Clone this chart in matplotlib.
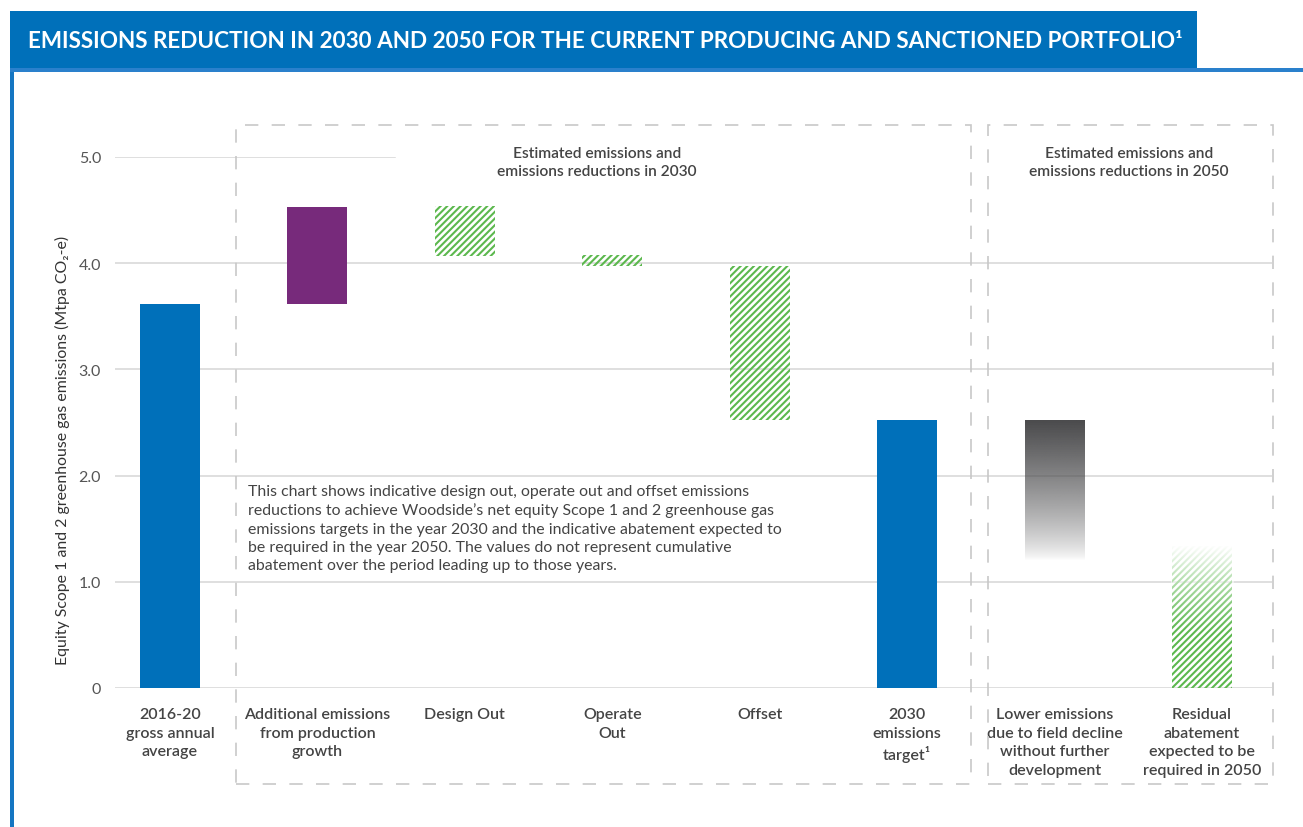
import matplotlib
matplotlib.use("Agg")
import matplotlib.pyplot as plt
from matplotlib.patches import Rectangle
import numpy as np

W, H = 1303, 828

plt.rcParams['font.family'] = ['Lato', 'DejaVu Sans']
plt.rcParams['hatch.linewidth'] = 1.5

# data (Mtpa CO2-e)
categories = ['2016-20\ngross annual\naverage',
              'Additional emissions\nfrom production\ngrowth',
              'Design Out',
              'Operate\nOut',
              'Offset',
              '2030\nemissions\ntarget\u00b9',
              'Lower emissions\ndue to field decline\nwithout further\ndevelopment',
              'Residual\nabatement\nexpected to be\nrequired in 2050']
bar_low = [0, 3.62, 4.07, 3.97, 2.52, 0, 1.10, 0]
bar_high = [3.62, 4.53, 4.54, 4.08, 3.97, 2.52, 2.52, 1.34]
bar_kind = ['solid', 'growth', 'hatch', 'hatch', 'hatch', 'solid', 'fade_grey', 'fade_hatch']
yticks = [0, 1.0, 2.0, 3.0, 4.0, 5.0]
ytick_labels = ['0', '1.0', '2.0', '3.0', '4.0', '5.0']

BLUE = '#0070ba'
PURPLE = '#772a7b'
GREEN = '#5cb84e'
DARK = '#4a4a4c'
TXT = '#444444'
GRID = '#d6d6d6'


def px(x, y):
    return x / W, 1 - y / H


fig = plt.figure(figsize=(W / 100, H / 100), dpi=100)

# banner
fig.add_artist(Rectangle(px(10, 69), 1187 / W, 57 / H, transform=fig.transFigure,
                         color=BLUE, lw=0))
fig.add_artist(Rectangle(px(10, 73), (W - 10) / W, 4 / H, transform=fig.transFigure,
                         color='#2a80cc', lw=0))
fig.add_artist(Rectangle(px(10, H), 4 / W, (H - 73) / H, transform=fig.transFigure,
                         color='#1576c2', lw=0))
fig.text(*px(28, 42), 'EMISSIONS REDUCTION IN 2030 AND 2050 FOR THE CURRENT PRODUCING AND SANCTIONED PORTFOLIO\u00b9',
         color='white', fontsize=16.2, fontweight='bold', va='center', ha='left')

ax0, ax1, ay0, ay1 = 115, 1272, 689, 158
ax = fig.add_axes([ax0 / W, 1 - ay0 / H, (ax1 - ax0) / W, (ay0 - ay1) / H])

n = len(categories)
x = np.arange(n)
step = (1202 - 170) / 7
width = 60 / step

for xi, lo, hi, kind in zip(x, bar_low, bar_high, bar_kind):
    if kind == 'solid':
        ax.bar(xi, hi - lo, bottom=lo, width=width, color=BLUE, zorder=2)
    elif kind == 'growth':
        ax.bar(xi, hi - lo, bottom=lo, width=width, color=PURPLE, zorder=2)
    elif kind == 'hatch':
        ax.bar(xi, hi - lo, bottom=lo, width=width, facecolor='none', edgecolor=GREEN,
               hatch='/////', linewidth=0, zorder=2)
    elif kind == 'fade_grey':
        v = np.linspace(lo, hi, 200)
        a = np.clip((v - 1.2) / (hi - 1.2), 0, 1) ** 0.75
        img = np.zeros((200, 1, 4))
        img[:, 0, :3] = matplotlib.colors.to_rgb(DARK)
        img[:, 0, 3] = a
        ax.imshow(img, extent=[xi - width / 2, xi + width / 2, lo, hi], origin='lower',
                  aspect='auto', interpolation='bilinear', zorder=2)
    elif kind == 'fade_hatch':
        ax.bar(xi, hi - lo, bottom=lo, width=width, facecolor='none', edgecolor=GREEN,
               hatch='/////', linewidth=0, zorder=2)
        v = np.linspace(lo, hi + 0.03, 200)
        a = np.clip((v - 0.5) / (hi - 0.5), 0, 1) ** 1.2
        img = np.ones((200, 1, 4))
        img[:, 0, 3] = a
        ax.imshow(img, extent=[xi - width / 2 - 0.01, xi + width / 2 + 0.01, lo, hi + 0.03],
                  origin='lower', aspect='auto', interpolation='bilinear', zorder=3)

ax.set_xlim(-(170 - ax0) / step, 7 + (ax1 - 1202) / step)
ax.set_ylim(0, 5.0)

# gridlines (5.0 is short)
for t in yticks:
    xmax = (395 - ax0) / (ax1 - ax0) if t == 5.0 else 1
    ax.axhline(t, xmin=0, xmax=xmax, color=GRID, lw=1.1, zorder=1)

for s in ax.spines.values():
    s.set_visible(False)
ax.set_yticks(yticks)
ax.set_yticklabels(ytick_labels)
ax.set_xticks(x)
ax.set_xticklabels(categories, fontweight='semibold', linespacing=1.4)
ax.tick_params(axis='y', length=0, pad=10, labelsize=11.5, labelcolor='#555555')
ax.tick_params(axis='x', length=0, pad=14, labelsize=11.5, labelcolor=TXT)
ax.set_facecolor('none')

fig.text(*px(62, 450), 'Equity Scope 1 and 2 greenhouse gas emissions (Mtpa CO\u2082-e)',
         rotation=90, ha='center', va='center', fontsize=11.4, color='#333333')

# dashed boxes
for bx0, bx1 in [(236, 971), (988, 1273)]:
    fig.add_artist(Rectangle(px(bx0, 785), (bx1 - bx0) / W, (785 - 126) / H,
                             transform=fig.transFigure, fill=False, edgecolor='#c8c8c8',
                             lw=1.2, linestyle=(0, (8, 8))))

fig.text(*px(597, 163), 'Estimated emissions and\nemissions reductions in 2030',
         ha='center', va='center', fontsize=11.2, fontweight='semibold', color=TXT, linespacing=1.45)
fig.text(*px(1129, 163), 'Estimated emissions and\nemissions reductions in 2050',
         ha='center', va='center', fontsize=11.2, fontweight='semibold', color=TXT, linespacing=1.45)

note = ("This chart shows indicative design out, operate out and offset emissions\n"
        "reductions to achieve Woodside\u2019s net equity Scope 1 and 2 greenhouse gas\n"
        "emissions targets in the year 2030 and the indicative abatement expected to\n"
        "be required in the year 2050. The values do not represent cumulative\n"
        "abatement over the period leading up to those years.")
fig.text(*px(248, 529), note, ha='left', va='center', fontsize=11.4, color=TXT, linespacing=1.38)

fig.savefig('out.png', dpi=100, facecolor='white')
